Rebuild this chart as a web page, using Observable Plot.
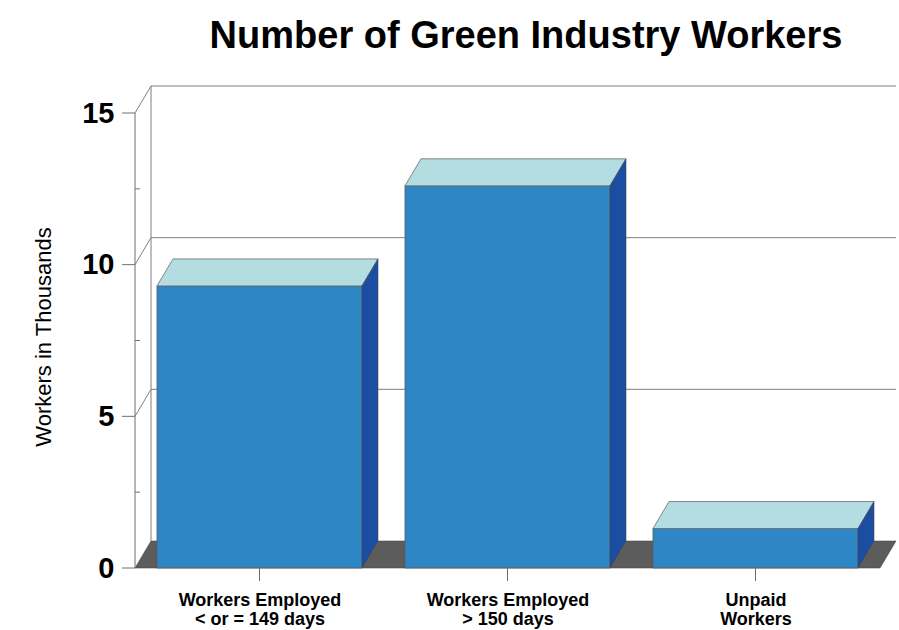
<!DOCTYPE html>
<html>
<head>
<meta charset="utf-8">
<script src="https://cdn.jsdelivr.net/npm/d3@7"></script>
<script src="https://cdn.jsdelivr.net/npm/@observablehq/plot@0.6"></script>
<style>
  html, body { margin: 0; padding: 0; background: #fff; }
</style>
</head>
<body>
<div id="chart"></div>
<script>
// ---- Data ----
const title = "Number of Green Industry Workers";
const yLabel = "Workers in Thousands";
const categoryLine1 = ["Workers Employed", "Workers Employed", "Unpaid"];
const categoryLine2 = ["< or = 149 days", "> 150 days", "Workers"];
const values = [9.3, 12.6, 1.3];
const yTicks = [0, 5, 10, 15];
const yMinorTicks = [2.5, 7.5, 12.5];
const yDomain = [0, 15];

const categories = categoryLine1.map((a, i) => a + " " + categoryLine2[i]);
const data = categories.map((c, i) => ({cat: c, value: values[i], line1: categoryLine1[i], line2: categoryLine2[i]}));

// ---- 3D style ----
const DX = 16, DY = -27;
const colFront = "#2e87c4", colTop = "#b3dde1", colSide = "#1b4ea2", colFloor = "#5c5c5c";
const lineCol = "#7f7f7f";

function line(g, x1, y1, x2, y2, stroke = lineCol, w = 1) {
  g.append("line").attr("x1", x1).attr("y1", y1).attr("x2", x2).attr("y2", y2)
    .attr("stroke", stroke).attr("stroke-width", w);
}

// floor + back wall + gridlines (behind bars)
function backFrame(index, scales, vals, dims) {
  const {x, y} = scales;
  const x0 = dims.marginLeft, x1 = dims.width - dims.marginRight;
  const g = d3.create("svg:g");
  const y0 = y(0);
  g.append("polygon")
    .attr("points", [[x0, y0], [x1, y0], [x1 + DX, y0 + DY], [x0 + DX, y0 + DY]].map(p => p.join(",")).join(" "))
    .attr("fill", colFloor).attr("stroke", "#4a4a4a").attr("stroke-width", 0.6);
  // back wall vertical
  line(g, x0 + DX, y(yDomain[0]) + DY, x0 + DX, y(yDomain[1]) + DY);
  // gridlines on back wall + diagonals from front axis
  for (const t of yTicks) {
    if (t === 0) continue;
    line(g, x0 + DX, y(t) + DY, x1 + DX, y(t) + DY);
    line(g, x0, y(t), x0 + DX, y(t) + DY);
  }
  return g.node();
}

// front axis line, major/minor ticks, category ticks
function frontAxis(index, scales, vals, dims) {
  const {x, y} = scales;
  const x0 = dims.marginLeft;
  const g = d3.create("svg:g");
  line(g, x0, y(yDomain[0]), x0, y(yDomain[1]), "#6f6f6f", 1);
  for (const t of yTicks) line(g, x0 - 13, y(t), x0, y(t), "#6f6f6f", 1);
  for (const t of yMinorTicks) line(g, x0, y(t), x0 + 5, y(t), "#6f6f6f", 1);
  const bw = x.bandwidth ? x.bandwidth() : 0;
  for (const c of categories) {
    const cx = x(c) + bw / 2;
    line(g, cx, y(0), cx, y(0) + 13, "#6f6f6f", 1);
  }
  return g.node();
}

// top and side faces of the bars
function barFaces(index, scales, vals, dims) {
  const {x, y} = scales;
  const bw = x.bandwidth();
  const g = d3.create("svg:g");
  for (const d of data) {
    const xa = x(d.cat), xb = xa + bw, yv = y(d.value), yb = y(0);
    g.append("polygon")
      .attr("points", [[xa, yv], [xb, yv], [xb + DX, yv + DY], [xa + DX, yv + DY]].map(p => p.join(",")).join(" "))
      .attr("fill", colTop).attr("stroke", "#6a6a6a").attr("stroke-width", 0.8);
    g.append("polygon")
      .attr("points", [[xb, yv], [xb + DX, yv + DY], [xb + DX, yb + DY], [xb, yb]].map(p => p.join(",")).join(" "))
      .attr("fill", colSide).attr("stroke", "#4a4a4a").attr("stroke-width", 0.6);
  }
  return g.node();
}

const chart = Plot.plot({
  width: 899,
  height: 630,
  marginTop: 113,
  marginBottom: 62,
  marginLeft: 135,
  marginRight: 19,
  style: {fontFamily: "'Liberation Sans', Arial, Helvetica, sans-serif", background: "#fff", color: "#000"},
  x: {domain: categories, paddingInner: 0.173, paddingOuter: 0.084, axis: null},
  y: {domain: yDomain, axis: null},
  marks: [
    backFrame,
    Plot.barY(data, {x: "cat", y: "value", fill: colFront, stroke: "#5a5a5a", strokeWidth: 0.8}),
    barFaces,
    frontAxis,
    Plot.text(yTicks, {y: d => d, text: d => String(d), frameAnchor: "left", dx: -21, textAnchor: "end",
      fontSize: 29, fontWeight: "bold", fill: "#000"}),
    Plot.text(data, {x: "cat", text: "line1", frameAnchor: "bottom", dy: 37, fontSize: 18, fontWeight: "bold", fill: "#000"}),
    Plot.text(data, {x: "cat", text: "line2", frameAnchor: "bottom", dy: 56, fontSize: 18, fontWeight: "bold", fill: "#000"}),
    Plot.text([yLabel], {text: d => d, frameAnchor: "left", textAnchor: "middle", rotate: -90, dx: -92, dy: -4, fontSize: 22, fill: "#000"}),
    Plot.text([title], {text: d => d, frameAnchor: "top", textAnchor: "middle", dx: 18, dy: -92, fontSize: 38, fontWeight: "bold", fill: "#000"})
  ]
});
document.getElementById("chart").appendChild(chart);
</script>
</body>
</html>
